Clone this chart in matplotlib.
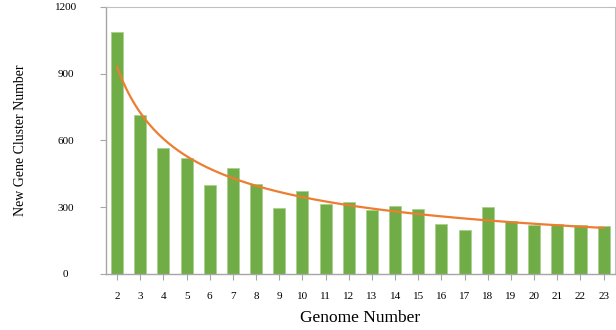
import matplotlib.pyplot as plt
import numpy as np

# Genome number vs. new gene clusters added
genomes = list(range(2, 24))
new_clusters = [1088, 715, 566, 521, 400, 476, 404, 297, 373, 315, 324,
                288, 306, 292, 225, 198, 301, 238, 220, 225, 220, 216]
y_ticks = [0, 300, 600, 900, 1200]

plt.rcParams['font.family'] = ['Liberation Serif', 'DejaVu Serif']

fig = plt.figure(figsize=(6.16, 3.3), dpi=100)
ax = fig.add_axes([0.172, 0.170, 0.826, 0.809])

pos = np.arange(len(genomes))
ax.bar(pos, new_clusters, width=0.52, color='#70AD47', edgecolor='#A9D18E',
       linewidth=0.6, zorder=2)

# power-law trend line fitted to the bars (like Excel's power trendline)
g = np.array(genomes, dtype=float)
b, log_a = np.polyfit(np.log(g), np.log(new_clusters), 1)
xs = np.linspace(g[0], g[-1], 200)
ax.plot(xs - g[0], np.exp(log_a) * xs ** b, color='#ED7D31', lw=1.6, zorder=3)

ax.set_xlim(-0.48, len(genomes) - 0.52)
ax.set_ylim(0, 1200)
ax.set_xticks(pos)
ax.set_xticklabels([str(v) for v in genomes], fontsize=8)
ax.set_yticks(y_ticks)
ax.set_yticklabels([str(v) for v in y_ticks], fontsize=8)
for lab in ax.get_yticklabels():
    lab.set_horizontalalignment('center')
ax.tick_params(axis='y', length=4, width=0.8, color='#A6A6A6', pad=25)
ax.tick_params(axis='x', length=4, width=0.8, color='#A6A6A6', pad=9)

for side in ['left', 'bottom']:
    ax.spines[side].set_color('#A6A6A6')
    ax.spines[side].set_linewidth(1.0)
for side in ['top', 'right']:
    ax.spines[side].set_color('#BFBFBF')
    ax.spines[side].set_linewidth(0.8)

ax.set_ylabel('New Gene Cluster Number', fontsize=10)
ax.yaxis.set_label_coords(-0.155, 0.5)
ax.set_xlabel('Genome Number', fontsize=12.5)
ax.xaxis.set_label_coords(0.5, -0.135)

plt.savefig('out.png', dpi=100)
